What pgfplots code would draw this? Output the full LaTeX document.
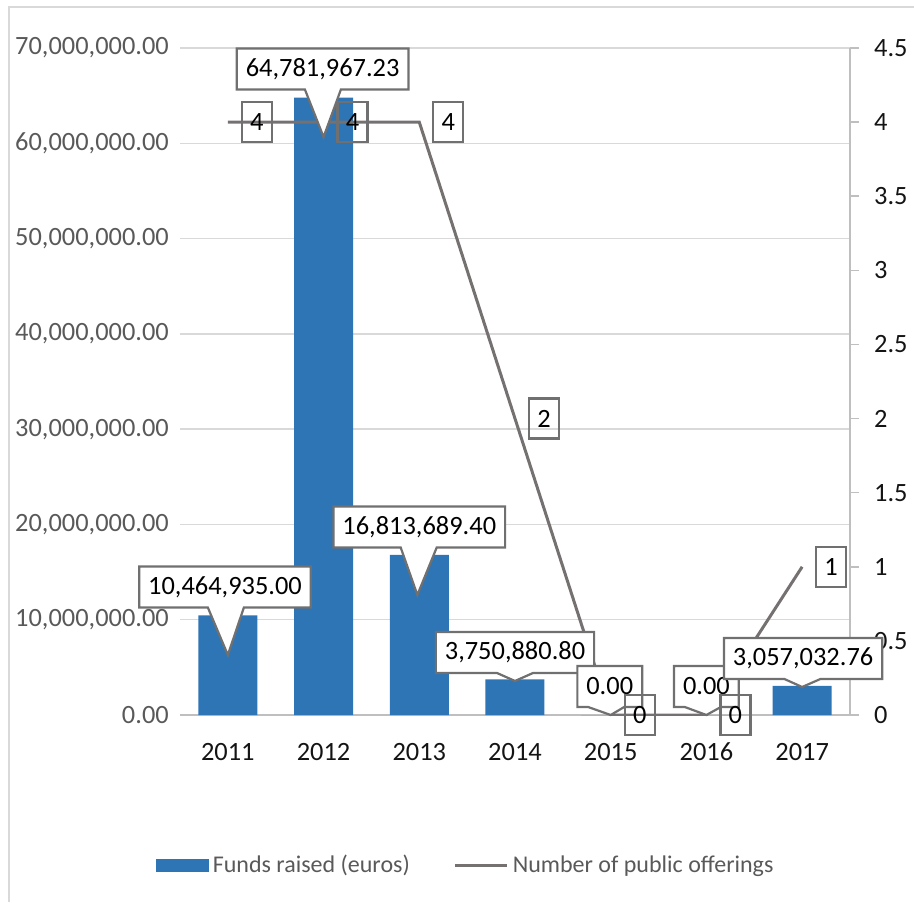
\documentclass[border=0pt]{standalone}
\usepackage{fontspec}
\setmainfont{Carlito}
\usepackage{pgfplots}
\pgfplotsset{compat=1.18}
\usepackage{pgfplotstable}
\usetikzlibrary{shapes.callouts}
\definecolor{barblue}{HTML}{2E75B6}
\definecolor{linegray}{HTML}{767171}
\definecolor{gridgray}{HTML}{D9D9D9}
\definecolor{axisgray}{HTML}{BFBFBF}
\definecolor{labelgray}{HTML}{595959}
\definecolor{darktext}{HTML}{141414}
\definecolor{boxgray}{HTML}{707070}

\pgfplotstableread{
x funds
0 10464935.00
1 64781967.23
2 16813689.40
3 3750880.80
4 0
5 0
6 3057032.76
}\fundstable

\pgfplotstableread{
x n
0 4
1 4
2 4
3 2
4 0
5 0
6 1
}\offertable

\pgfplotsset{
  base/.style={at={(0pt,0pt)}, anchor=south west, scale only axis,
    width=335pt, height=333.5pt, xmin=-0.5, xmax=6.5},
  leftscale/.style={ymin=0, ymax=70000000},
  rightscale/.style={ymin=0, ymax=4.5},
}
\tikzset{
  callout/.style={rectangle callout, draw=boxgray, line width=1.1pt, fill=white,
    text=black, inner xsep=4.5pt, inner ysep=0pt, minimum height=20.5pt,
    callout pointer width=18pt},
  lbl/.style={draw=boxgray, line width=1.1pt, text=black, minimum width=15pt,
    minimum height=20pt, inner sep=1pt, xshift=14.5pt},
}

\begin{document}
\fontsize{13.2}{16}\selectfont
\begin{tikzpicture}
\useasboundingbox (-90pt,-93.5pt) rectangle (367pt,357.5pt);
\draw[gridgray, line width=1pt] (-85.5pt,-93.5pt) -- (-85.5pt,354pt) -- (367pt,354pt);

% bars, left axis
\begin{axis}[base, leftscale,
  axis x line*=bottom, axis y line*=left,
  x axis line style={axisgray, line width=0.75pt},
  y axis line style={draw=none},
  xtick={0,1,2,3,4,5,6},
  xticklabels={2011,2012,2013,2014,2015,2016,2017},
  xtick style={draw=none}, ytick style={draw=none},
  ytick={0,10000000,20000000,30000000,40000000,50000000,60000000,70000000},
  scaled y ticks=false,
  ymajorgrids, major grid style={gridgray, line width=0.75pt},
  yticklabel style={text=labelgray, xshift=-1pt,
    /pgf/number format/fixed, /pgf/number format/fixed zerofill,
    /pgf/number format/precision=2, /pgf/number format/1000 sep={,},
    /pgf/number format/assume math mode=true},
  xticklabel style={text=darktext, yshift=-9pt, text height=9pt, text depth=0pt},
]
\addplot[ybar, bar width=29.5pt, fill=barblue, draw=none] table[x=x, y=funds] {\fundstable};
\end{axis}

% line, right axis
\begin{axis}[base, rightscale,
  axis x line=none, axis y line*=right,
  y axis line style={axisgray, line width=0.75pt},
  ytick={0,0.5,1,1.5,2,2.5,3,3.5,4,4.5},
  tick align=outside, major tick length=4.5pt,
  ytick style={axisgray, line width=0.75pt},
  yticklabel style={text=darktext, xshift=3pt,
    /pgf/number format/assume math mode=true},
  legend style={at={(axis description cs:0.428,-0.226)}, anchor=center,
    draw=none, fill=none, text=labelgray, legend columns=2,
    font=\fontsize{12}{14}\selectfont,
    /tikz/every even column/.append style={column sep=20pt}},
]
\addlegendimage{legend image code/.code={\fill[barblue] (0pt,-3pt) rectangle (26pt,3pt);}}
\addlegendentry{Funds raised (euros)}
\addplot[linegray, line width=1.5pt, mark=none,
  legend image code/.code={\draw[linegray, line width=1.5pt] (0pt,0pt) -- (26pt,0pt);}]
  table[x=x, y=n] {\offertable};
\addlegendentry{Number of public offerings}
\end{axis}

% bar callouts
\begin{axis}[base, leftscale, hide axis, clip=false]
\node[callout, callout absolute pointer={(axis cs:0,6300000)}] at (axis cs:-0.03,13430000) {10,464,935.00};
\node[callout, callout absolute pointer={(axis cs:1,60660000)}] at (axis cs:0.99,67800000) {64,781,967.23};
\node[callout, callout absolute pointer={(axis cs:1.98,12600000)}] at (axis cs:2,19730000) {16,813,689.40};
\node[callout, callout absolute pointer={(axis cs:3,3570000)}] at (axis cs:3,6560000) {3,750,880.80};
\node[callout, callout absolute pointer={(axis cs:4,0)}] at (axis cs:3.99,2990000) {0.00};
\node[callout, callout absolute pointer={(axis cs:5,0)}] at (axis cs:5,2990000) {0.00};
\node[callout, callout absolute pointer={(axis cs:6,2940000)}] at (axis cs:6.01,5930000) {3,057,032.76};
\end{axis}

% line labels
\begin{axis}[base, rightscale, hide axis, clip=false]
\node[lbl] at (axis cs:0,4) {4};
\node[lbl] at (axis cs:1,4) {4};
\node[lbl] at (axis cs:2,4) {4};
\node[lbl] at (axis cs:3,2) {2};
\node[lbl] at (axis cs:4,0) {0};
\node[lbl] at (axis cs:5,0) {0};
\node[lbl] at (axis cs:6,1) {1};
\end{axis}
\end{tikzpicture}
\end{document}
